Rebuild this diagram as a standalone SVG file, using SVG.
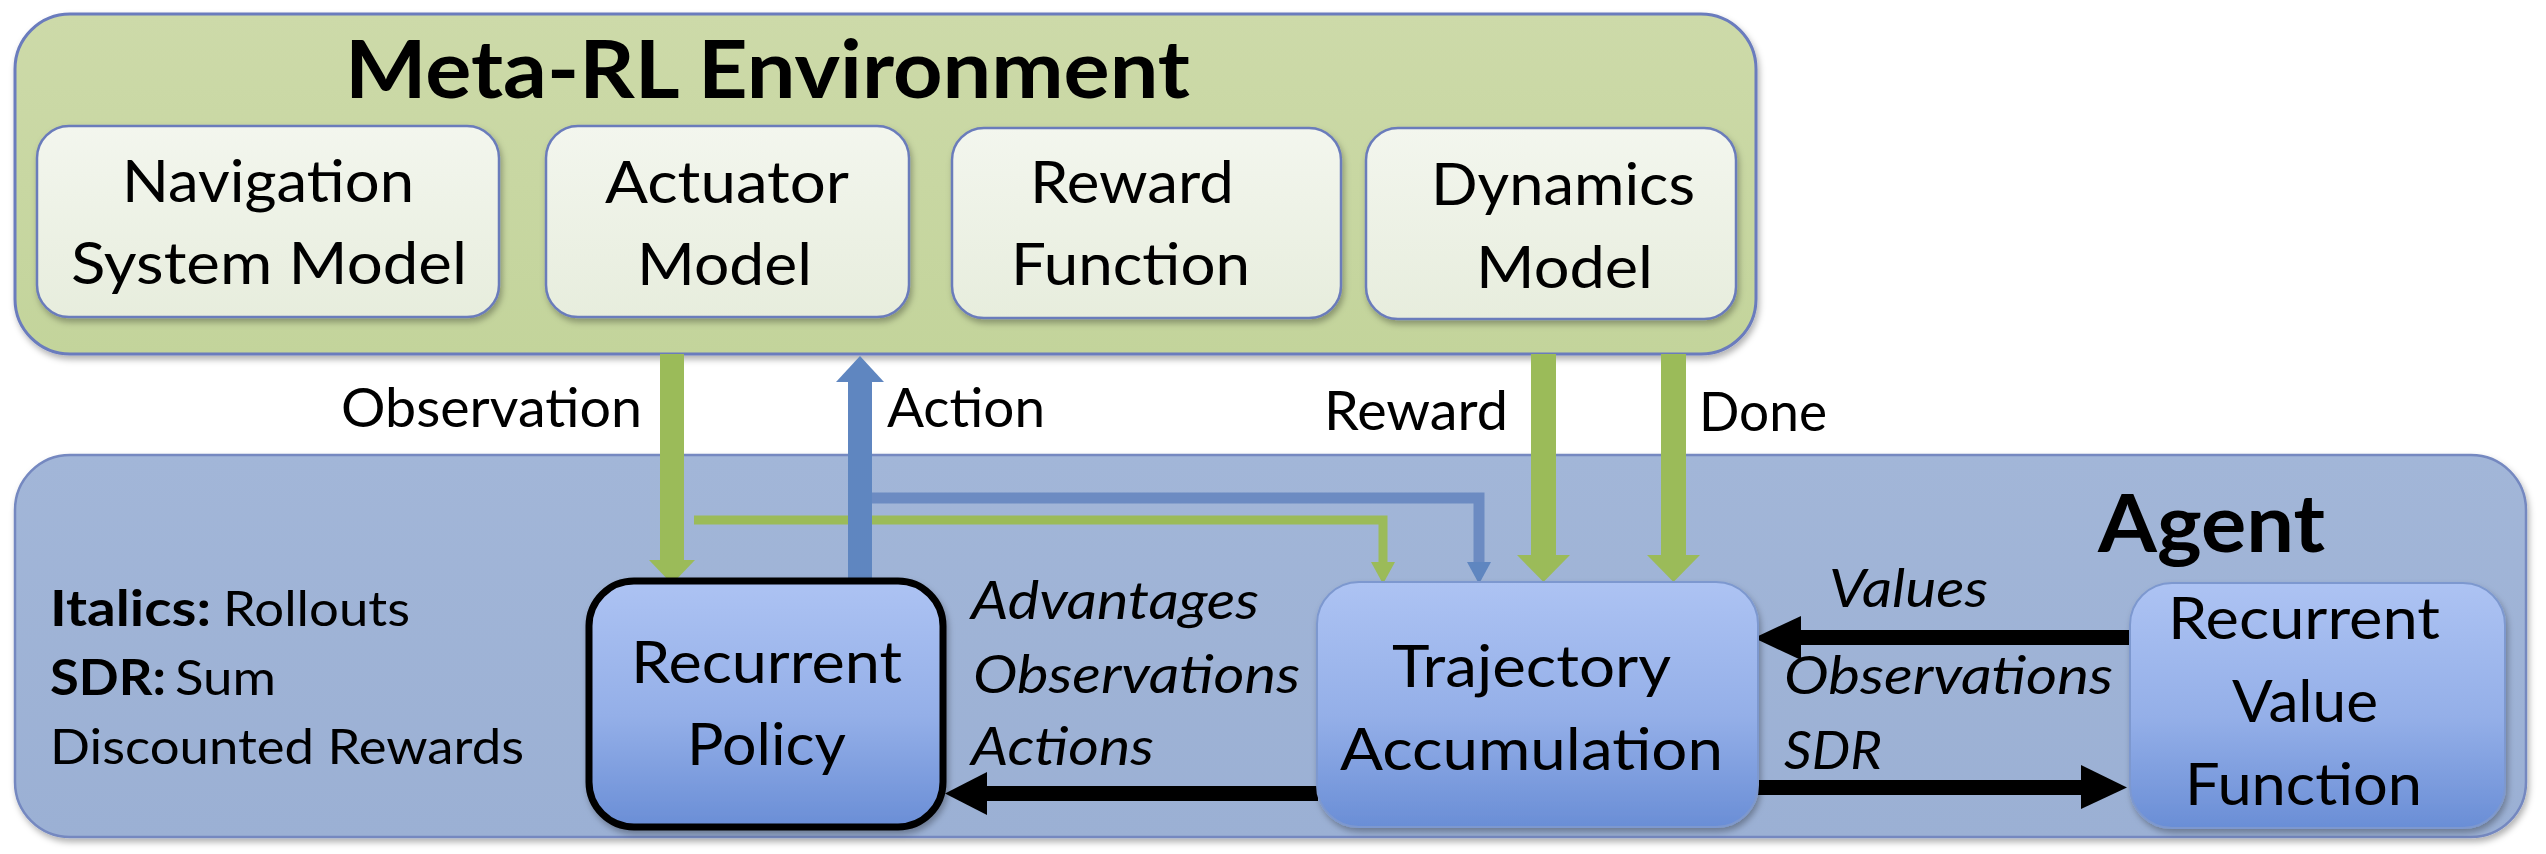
<svg xmlns="http://www.w3.org/2000/svg" width="2546" height="854" viewBox="0 0 2546 854">
<defs>
<style>
text{font-family:Lato,"Open Sans","Liberation Sans",sans-serif;fill:#000}
.title{font-size:81px;font-weight:700}
.box{font-size:59px}
.lbl{font-size:55px}
.it{font-size:53px;font-style:italic}
.leg{font-size:49px}
.b{font-weight:700}
.envbox{fill:url(#gEnvIn);stroke:#6a7bbb;stroke-width:2.5}
.blue{fill:url(#gBlue);stroke:#7d98cf;stroke-width:2}
.green{fill:#9bbb59}
.gline{fill:none;stroke:#9bbb59}
.bl{fill:#5f86c0}
.bline{fill:none;stroke:#6c8bc2}
</style>
<linearGradient id="gEnv" x1="0" y1="0" x2="0" y2="1">
<stop offset="0" stop-color="#cddaa9"/><stop offset="1" stop-color="#c3d49b"/>
</linearGradient>
<linearGradient id="gEnvIn" x1="0" y1="0" x2="0" y2="1">
<stop offset="0" stop-color="#f3f6ee"/><stop offset="1" stop-color="#e7eddd"/>
</linearGradient>
<linearGradient id="gAgent" x1="0" y1="0" x2="0" y2="1">
<stop offset="0" stop-color="#a2b6d8"/><stop offset="1" stop-color="#9bb0d4"/>
</linearGradient>
<linearGradient id="gBlue" x1="0" y1="0" x2="0" y2="1">
<stop offset="0" stop-color="#adc3f3"/><stop offset="0.55" stop-color="#94afe8"/><stop offset="1" stop-color="#6a8ed6"/>
</linearGradient>
<filter id="sh" x="-5%" y="-5%" width="110%" height="115%">
<feDropShadow dx="2" dy="4" stdDeviation="3" flood-color="#000" flood-opacity="0.3"/>
</filter>
</defs>
<rect width="2546" height="854" fill="#fff"/>

<g id="agent">
<rect x="15" y="455" width="2511" height="382" rx="55" fill="url(#gAgent)" stroke="#7488c0" stroke-width="2.5" filter="url(#sh)"/>
<text class="title" x="2098" y="552" textLength="227" lengthAdjust="spacingAndGlyphs">Agent</text>
<text class="leg b" x="50" y="626" textLength="161" lengthAdjust="spacingAndGlyphs">Italics:</text>
<text class="leg" x="223" y="626" textLength="187" lengthAdjust="spacingAndGlyphs">Rollouts</text>
<text class="leg b" x="50" y="695" textLength="116" lengthAdjust="spacingAndGlyphs">SDR:</text>
<text class="leg" x="175" y="695" textLength="101" lengthAdjust="spacingAndGlyphs">Sum</text>
<text class="leg" x="50" y="764" textLength="474" lengthAdjust="spacingAndGlyphs">Discounted Rewards</text>
</g>

<g id="env">
<rect x="15" y="14" width="1741" height="340" rx="55" fill="url(#gEnv)" stroke="#6a7bbd" stroke-width="3" filter="url(#sh)"/>
<text class="title" x="345" y="98" textLength="845" lengthAdjust="spacingAndGlyphs">Meta-RL Environment</text>
</g>

<g id="env-navigation">
<rect class="envbox" x="37" y="126" width="462" height="191" rx="32" filter="url(#sh)"/>
<text class="box" x="122" y="202" textLength="292" lengthAdjust="spacingAndGlyphs">Navigation</text>
<text class="box" x="71" y="284" textLength="396" lengthAdjust="spacingAndGlyphs">System Model</text>
</g>
<g id="env-actuator">
<rect class="envbox" x="546" y="126" width="363" height="191" rx="32" filter="url(#sh)"/>
<text class="box" x="605" y="203" textLength="244" lengthAdjust="spacingAndGlyphs">Actuator</text>
<text class="box" x="637" y="285" textLength="175" lengthAdjust="spacingAndGlyphs">Model</text>
</g>
<g id="env-reward">
<rect class="envbox" x="952" y="128" width="389" height="190" rx="32" filter="url(#sh)"/>
<text class="box" x="1030" y="203" textLength="204" lengthAdjust="spacingAndGlyphs">Reward</text>
<text class="box" x="1011" y="285" textLength="239" lengthAdjust="spacingAndGlyphs">Function</text>
</g>
<g id="env-dynamics">
<rect class="envbox" x="1366" y="128" width="370" height="191" rx="32" filter="url(#sh)"/>
<text class="box" x="1431" y="205" textLength="264" lengthAdjust="spacingAndGlyphs">Dynamics</text>
<text class="box" x="1476" y="288" textLength="177" lengthAdjust="spacingAndGlyphs">Model</text>
</g>

<g id="connectors">
<path class="gline" d="M694 520 H1383 V563" stroke-width="9"/>
<polygon class="green" points="1371,562 1395,562 1383,584"/>
<rect class="green" x="660" y="354" width="24" height="207"/>
<polygon class="green" points="649,560 695,560 672,584"/>
<path class="bline" d="M872 498 H1479 V563" stroke-width="11"/>
<polygon class="bl" points="1467,562 1491,562 1479,584"/>
<rect class="bl" x="848" y="381" width="24" height="200"/>
<polygon class="bl" points="836,382 884,382 860,356"/>
<rect class="green" x="1531" y="354" width="25" height="202"/>
<polygon class="green" points="1517,555 1570,555 1543.5,582"/>
<rect class="green" x="1661" y="354" width="25" height="202"/>
<polygon class="green" points="1647,555 1700,555 1673.5,582"/>
<rect x="985" y="786" width="333" height="15" fill="#000"/>
<polygon points="987,772 987,815 945,793.5" fill="#000"/>
<rect x="1800" y="630" width="331" height="15" fill="#000"/>
<polygon points="1801,616 1801,660 1754,638" fill="#000"/>
<rect x="1752" y="780" width="330" height="15" fill="#000"/>
<polygon points="2081,765 2081,809 2127,787.5" fill="#000"/>
</g>

<g id="labels">
<text class="lbl" x="341" y="427" textLength="301" lengthAdjust="spacingAndGlyphs">Observation</text>
<text class="lbl" x="887" y="427" textLength="158" lengthAdjust="spacingAndGlyphs">Action</text>
<text class="lbl" x="1324" y="430" textLength="184" lengthAdjust="spacingAndGlyphs">Reward</text>
<text class="lbl" x="1699" y="431" textLength="128" lengthAdjust="spacingAndGlyphs">Done</text>
<text class="it" x="971" y="619" textLength="288" lengthAdjust="spacingAndGlyphs">Advantages</text>
<text class="it" x="973" y="693" textLength="327" lengthAdjust="spacingAndGlyphs">Observations</text>
<text class="it" x="971" y="765" textLength="183" lengthAdjust="spacingAndGlyphs">Actions</text>
<text class="it" x="1829" y="607" textLength="159" lengthAdjust="spacingAndGlyphs">Values</text>
<text class="it" x="1784" y="694" textLength="329" lengthAdjust="spacingAndGlyphs">Observations</text>
<text class="it" x="1784" y="769" textLength="98" lengthAdjust="spacingAndGlyphs">SDR</text>
</g>

<g id="policy">
<rect x="589" y="581" width="354" height="246" rx="45" fill="url(#gBlue)" stroke="#000" stroke-width="7" filter="url(#sh)"/>
<text class="box" x="631" y="683" textLength="271" lengthAdjust="spacingAndGlyphs">Recurrent</text>
<text class="box" x="687" y="765" textLength="159" lengthAdjust="spacingAndGlyphs">Policy</text>
</g>

<g id="trajectory">
<rect class="blue" x="1317" y="582" width="441" height="245" rx="42" filter="url(#sh)"/>
<text class="box" x="1392" y="687" textLength="279" lengthAdjust="spacingAndGlyphs">Trajectory</text>
<text class="box" x="1340" y="770" textLength="383" lengthAdjust="spacingAndGlyphs">Accumulation</text>
</g>

<g id="value-function">
<rect class="blue" x="2130" y="583" width="375" height="245" rx="42" filter="url(#sh)"/>
<text class="box" x="2168" y="639" textLength="272" lengthAdjust="spacingAndGlyphs">Recurrent</text>
<text class="box" x="2232" y="722" textLength="146" lengthAdjust="spacingAndGlyphs">Value</text>
<text class="box" x="2185" y="805" textLength="237" lengthAdjust="spacingAndGlyphs">Function</text>
</g>
</svg>
